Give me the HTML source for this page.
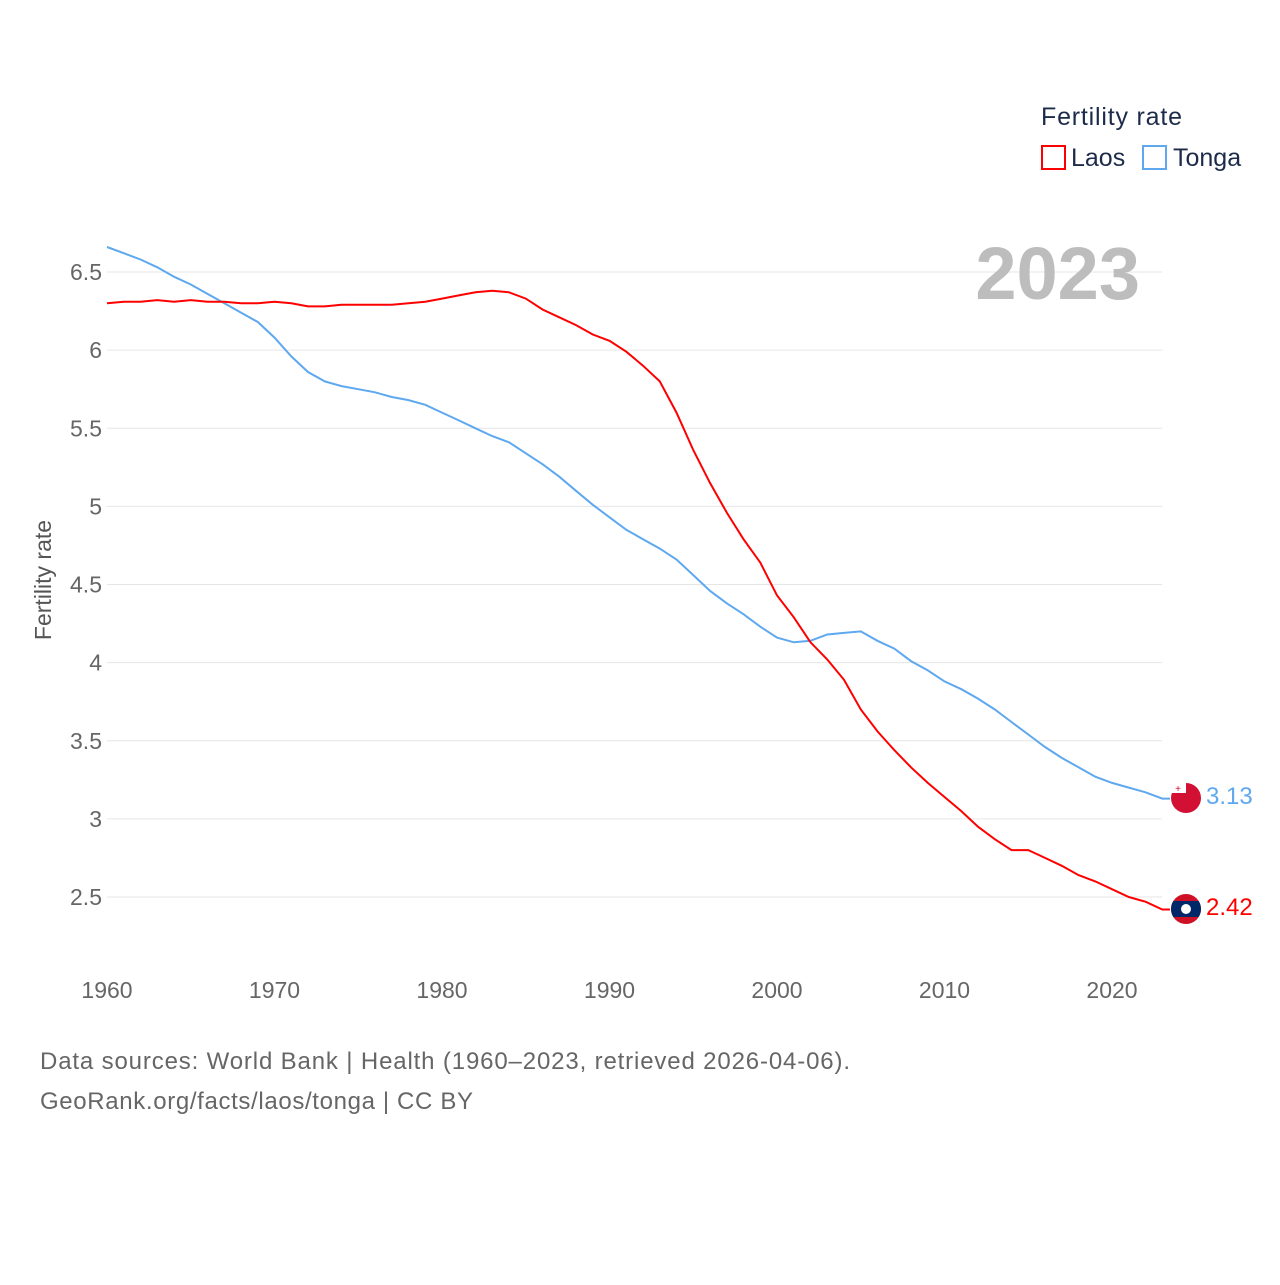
<!DOCTYPE html>
<html><head><meta charset="utf-8"><style>
body{margin:0;background:#fff;font-family:"Liberation Sans",sans-serif}
svg text{font-family:"Liberation Sans",sans-serif}
</style></head><body>
<svg width="1280" height="1280">
<text x="1041" y="125" font-size="25" fill="#1d2b4a" textLength="141">Fertility rate</text>
<rect x="1042" y="146" width="23" height="23" fill="none" stroke="#ff0000" stroke-width="2"/>
<text x="1071" y="166" font-size="25" fill="#1d2b4a">Laos</text>
<rect x="1143" y="146" width="23" height="23" fill="none" stroke="#5ea8ef" stroke-width="2"/>
<text x="1173" y="166" font-size="25" fill="#1d2b4a">Tonga</text>
<g id="grid"></g>
<text x="1140" y="299" font-size="74" font-weight="bold" fill="#bdbdbd" text-anchor="end">2023</text>
<text transform="translate(51,580) rotate(-90)" font-size="23" fill="#555" text-anchor="middle">Fertility rate</text>
<g id="series"></g>
<g><circle cx="1186" cy="798" r="15" fill="#d21034"/><rect x="1171" y="783" width="15" height="10" fill="#fff"/><text x="1178" y="792" font-size="10" fill="#d21034" text-anchor="middle">+</text></g>
<g><clipPath id="lc"><circle cx="1186" cy="909" r="15"/></clipPath><g clip-path="url(#lc)"><rect x="1171" y="894" width="30" height="30" fill="#ce1126"/><rect x="1171" y="901" width="30" height="16" fill="#002868"/><circle cx="1186" cy="909" r="5" fill="#fff"/></g></g>
<text x="1206" y="804" font-size="24" fill="#5ea8ef">3.13</text>
<text x="1206" y="915" font-size="24" fill="#ff0000">2.42</text>
<text x="40" y="1069" font-size="24" fill="#666" textLength="810">Data sources: World Bank | Health (1960–2023, retrieved 2026-04-06).</text>
<text x="40" y="1109" font-size="24" fill="#666" textLength="433">GeoRank.org/facts/laos/tonga | CC BY</text>
</svg>
<script>
const years=[];for(let y=1960;y<=2023;y++)years.push(y);
const laos=[6.30,6.31,6.31,6.32,6.31,6.32,6.31,6.31,6.30,6.30,6.31,6.30,6.28,6.28,6.29,6.29,6.29,6.29,6.30,6.31,6.33,6.35,6.37,6.38,6.37,6.33,6.26,6.21,6.16,6.10,6.06,5.99,5.90,5.80,5.60,5.36,5.15,4.96,4.79,4.64,4.43,4.29,4.13,4.02,3.89,3.70,3.56,3.44,3.33,3.23,3.14,3.05,2.95,2.87,2.80,2.80,2.75,2.70,2.64,2.60,2.55,2.50,2.47,2.42];
const tonga=[6.66,6.62,6.58,6.53,6.47,6.42,6.36,6.30,6.24,6.18,6.08,5.96,5.86,5.80,5.77,5.75,5.73,5.70,5.68,5.65,5.60,5.55,5.50,5.45,5.41,5.34,5.27,5.19,5.10,5.01,4.93,4.85,4.79,4.73,4.66,4.56,4.46,4.38,4.31,4.23,4.16,4.13,4.14,4.18,4.19,4.20,4.14,4.09,4.01,3.95,3.88,3.83,3.77,3.70,3.62,3.54,3.46,3.39,3.33,3.27,3.23,3.20,3.17,3.13];
const yTicks=[2.5,3,3.5,4,4.5,5,5.5,6,6.5];
const yTickLabels=["2.5","3","3.5","4","4.5","5","5.5","6","6.5"];
const xTicks=[1960,1970,1980,1990,2000,2010,2020];
const X=y=>107+(y-1960)*16.75;
const Y=v=>272+(6.5-v)*156.25;
const NS="http://www.w3.org/2000/svg";
const grid=document.getElementById('grid');
yTicks.forEach((t,i)=>{
 const l=document.createElementNS(NS,'line');
 l.setAttribute('x1',107);l.setAttribute('x2',1162);l.setAttribute('y1',Y(t));l.setAttribute('y2',Y(t));
 l.setAttribute('stroke','#e6e6e6');l.setAttribute('stroke-width','1');
 
 
 grid.appendChild(l);
 const tx=document.createElementNS(NS,'text');
 tx.setAttribute('x',102);tx.setAttribute('y',Y(t)+8);tx.setAttribute('text-anchor','end');
 tx.setAttribute('font-size','23');tx.setAttribute('fill','#666');tx.textContent=yTickLabels[i];
 
 
 grid.appendChild(tx);
});
xTicks.forEach(t=>{
 const tx=document.createElementNS(NS,'text');
 tx.setAttribute('x',X(t));tx.setAttribute('y',998);tx.setAttribute('text-anchor','middle');
 tx.setAttribute('font-size','23');tx.setAttribute('fill','#666');tx.textContent=t;
 
 
 grid.appendChild(tx);
});
const ser=document.getElementById('series');
function line(data,color,name){
 const p=document.createElementNS(NS,'path');
 let d=data.map((v,i)=>(i?'L':'M')+X(years[i]).toFixed(1)+','+Y(v).toFixed(1)).join('');
 d+='L1170,'+Y(data[data.length-1]).toFixed(1);
 p.setAttribute('d',d);
 p.setAttribute('fill','none');p.setAttribute('stroke',color);p.setAttribute('stroke-width','2');
 
 
 ser.appendChild(p);
}
line(tonga,'#5ea8ef','tonga-line');
line(laos,'#ff0000','laos-line');
</script>
</body></html>
